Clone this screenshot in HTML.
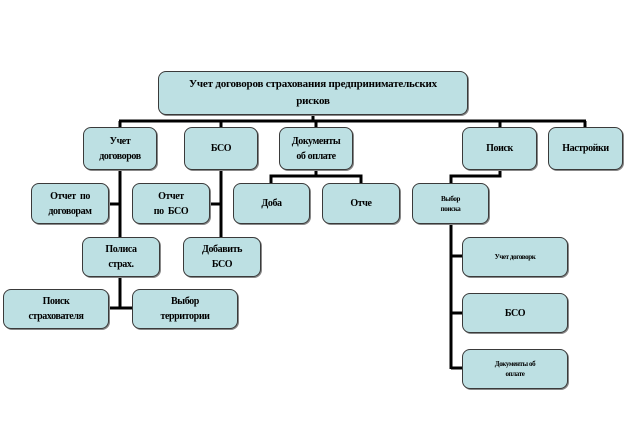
<!DOCTYPE html>
<html><head><meta charset="utf-8"><style>
html,body{margin:0;padding:0;background:#fff;}
body{width:626px;height:426px;position:relative;overflow:hidden;font-family:"Liberation Serif","Noto Serif CJK SC",serif;}
.b{position:absolute;box-sizing:border-box;background:#bde0e3;border:1.5px solid #3a3a3a;border-radius:8px;display:flex;align-items:center;justify-content:center;text-align:center;font-weight:bold;font-size:10px;line-height:15px;letter-spacing:-0.4px;color:#000;box-shadow:1px 1px 0 #888;}
.s{font-size:7px;line-height:10px;}
svg{position:absolute;left:0;top:0;}
</style></head><body>
<svg width="626" height="426">
<g stroke="#000" stroke-width="3" fill="none">
<line x1="313" y1="114" x2="313" y2="121"/>
<line x1="119" y1="121" x2="586" y2="121"/>
<line x1="120" y1="121" x2="120" y2="127"/>
<line x1="221" y1="121" x2="221" y2="127"/>
<line x1="316" y1="121" x2="316" y2="127"/>
<line x1="500" y1="121" x2="500" y2="127"/>
<line x1="585" y1="121" x2="585" y2="127"/>
<line x1="120" y1="170" x2="120" y2="308"/>
<line x1="109" y1="204" x2="120" y2="204"/>
<line x1="109" y1="308" x2="132" y2="308"/>
<line x1="221" y1="170" x2="221" y2="237"/>
<line x1="210" y1="204" x2="221" y2="204"/>
<polyline points="316,170 316,176 271,176 271,183"/>
<polyline points="316,176 361,176 361,183"/>
<polyline points="500,170 500,176 451,176 451,183"/>
<line x1="451" y1="224" x2="451" y2="369"/>
<line x1="451" y1="256" x2="462" y2="256"/>
<line x1="451" y1="313" x2="462" y2="313"/>
<line x1="451" y1="368" x2="462" y2="368"/>
</g></svg>
<div class="b" style="left:158px;top:71px;width:310px;height:44px;font-size:11px;line-height:17px;letter-spacing:-0.2px;">Учет договоров страхования предпринимательских<br>рисков</div>
<div class="b" style="left:83px;top:127px;width:74px;height:43px;">Учет<br>договоров</div>
<div class="b" style="left:184px;top:127px;width:74px;height:43px;">БСО</div>
<div class="b" style="left:279px;top:127px;width:74px;height:43px;">Документы<br>об оплате</div>
<div class="b" style="left:462px;top:127px;width:75px;height:43px;">Поиск</div>
<div class="b" style="left:548px;top:127px;width:75px;height:43px;">Настройки</div>
<div class="b" style="left:31px;top:183px;width:78px;height:41px;">Отчет &nbsp;по<br>договорам</div>
<div class="b" style="left:132px;top:183px;width:78px;height:41px;">Отчет<br>по &nbsp;БСО</div>
<div class="b" style="left:233px;top:183px;width:77px;height:41px;">Доба</div>
<div class="b" style="left:322px;top:183px;width:78px;height:41px;">Отче</div>
<div class="b s" style="left:412px;top:183px;width:77px;height:41px;">Выбор<br>поиска</div>
<div class="b" style="left:82px;top:237px;width:78px;height:40px;">Полиса<br>страх.</div>
<div class="b" style="left:183px;top:237px;width:78px;height:40px;">Добавить<br>БСО</div>
<div class="b" style="left:3px;top:289px;width:106px;height:40px;">Поиск<br>страхователя</div>
<div class="b" style="left:132px;top:289px;width:106px;height:40px;">Выбор<br>территории</div>
<div class="b s" style="left:462px;top:237px;width:106px;height:40px;">Учет договорк</div>
<div class="b" style="left:462px;top:293px;width:106px;height:40px;">БСО</div>
<div class="b s" style="left:462px;top:349px;width:106px;height:40px;">Документы об<br>оплате</div>
</body></html>
